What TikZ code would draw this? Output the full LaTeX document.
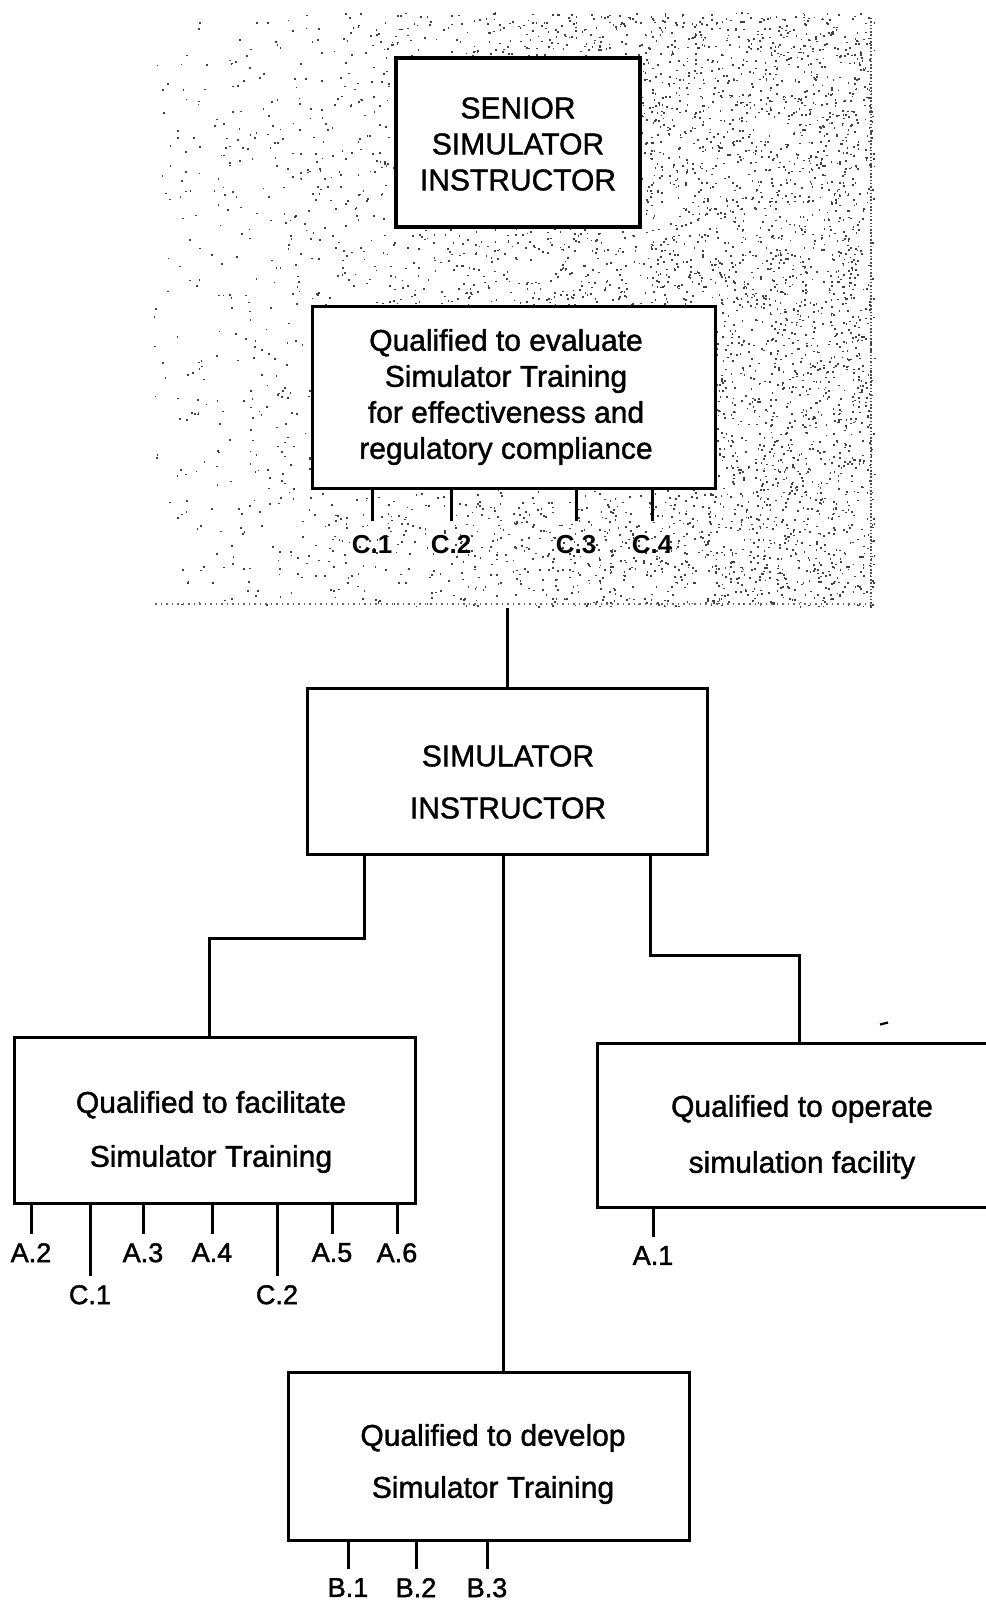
\documentclass[tikz,border=0pt]{standalone}
\usepackage{fontspec}
\setmainfont{Liberation Sans}
\newfontfamily\heavyfont{Liberation Sans}[FakeBold=1.3]
\newfontfamily\labfont{Liberation Sans}[FakeBold=1.6]
\begin{document}
\begin{tikzpicture}[x=1pt,y=-1pt,
  box/.style={draw, line width=3pt, fill=white, rectangle, inner sep=0pt},
  boxtext/.style={align=center, inner sep=0pt, font=\heavyfont\fontsize{30}{#1}\selectfont},
  boxtext/.default=36,
  link/.style={line width=3pt},
  tickline/.style={line width=3pt},
  lab/.style={font=\labfont\fontsize{27}{30}\selectfont, inner xsep=0pt, inner ysep=9pt, anchor=north},
  blab/.style={font=\bfseries\fontsize{26}{30}\selectfont, inner xsep=0pt, inner ysep=14pt, anchor=north},
  stipple/.style={fill=black!75}]
\useasboundingbox (0,0) rectangle (985,1602);

% stippled background region
\node[inner sep=0pt, minimum width=721pt, minimum height=598pt] (shade) at (513.5,309) {};
\pgfmathsetseed{7}
\foreach \i in {1,...,4600}{
  \pgfmathsetmacro\dx{153+721*pow(rnd,0.45)}
  \pgfmathsetmacro\dy{12+594*rnd}
  \fill[stipple] (\dx,\dy) rectangle ++(1.7,1.7);
}
\foreach \i in {1,...,1000}{
  \pgfmathsetmacro\dx{153+721*rnd}
  \pgfmathsetmacro\dy{12+594*rnd}
  \fill[stipple] (\dx,\dy) rectangle ++(1.7,1.7);
}
\draw[line width=2pt, black!70, dash pattern=on 1.5pt off 1.8pt] (871,18) -- (871,606);
\draw[line width=1.8pt, black!60, dash pattern=on 1.5pt off 4pt] (155,604) -- (871,604);

% boxes
\node[box, line width=3.4pt, minimum width=244pt, minimum height=169pt] (senior) at (518,142.5) {};
\node[boxtext] (seniort) at (518,144) {SENIOR\\SIMULATOR\\INSTRUCTOR};

\node[box, minimum width=403pt, minimum height=181pt] (eval) at (513.5,397.5) {};
\node[boxtext] (evalt) at (506,397) {Qualified to evaluate\\Simulator Training\\for effectiveness and\\regulatory compliance};

\node[box, minimum width=400pt, minimum height=166pt] (sim) at (507,771) {};
\node[boxtext=52] (simt) at (508,782) {SIMULATOR\\INSTRUCTOR};

\node[box, minimum width=401pt, minimum height=166pt] (fac) at (214.5,1120) {};
\node[boxtext=54] (fact) at (211,1132) {Qualified to facilitate\\Simulator Training};

\node[box, minimum width=420pt, minimum height=164pt] (oper) at (807,1125) {};
\node[boxtext=56] (opert) at (802,1137) {Qualified to operate\\simulation facility};

\node[box, minimum width=401pt, minimum height=168pt] (dev) at (488.5,1456) {};
\node[boxtext=52] (devt) at (493,1464) {Qualified to develop\\Simulator Training};

% connectors
\coordinate (lk1) at (364,938);
\coordinate (lk2) at (209,938);
\coordinate (rk1) at (650,955);
\coordinate (rk2) at (799,955);
\coordinate (mk) at (503,900);
\draw[link] (shade.south -| sim.north) -- (sim.north);
\draw[link] (sim.south -| lk1) -- (lk1) -- (lk2) -- (fac.north -| lk2);
\draw[link] (sim.south -| rk1) -- (rk1) -- (rk2) -- (oper.north -| rk2);
\draw[link] (sim.south -| mk) -- (dev.north -| mk);

% evaluation labels
\node[blab] (ec1) at (372,521) {C.1};
\node[blab] (ec2) at (451,521) {C.2};
\node[blab] (ec3) at (576,521) {C.3};
\node[blab] (ec4) at (652,521) {C.4};
\foreach \n in {ec1,ec2,ec3,ec4}{\draw[tickline] (eval.south -| \n.north) -- (\n.north);}

% facilitate labels
\node[lab] (fa2) at (31,1234) {A.2};
\node[lab] (fc1) at (90,1276) {C.1};
\node[lab] (fa3) at (143,1234) {A.3};
\node[lab] (fa4) at (212,1234) {A.4};
\node[lab] (fc2) at (277,1276) {C.2};
\node[lab] (fa5) at (332,1234) {A.5};
\node[lab] (fa6) at (397,1234) {A.6};
\foreach \n in {fa2,fc1,fa3,fa4,fc2,fa5,fa6}{\draw[tickline] (fac.south -| \n.north) -- (\n.north);}

% operate label
\node[lab] (oa1) at (653,1237) {A.1};
\draw[tickline] (oper.south -| oa1.north) -- (oa1.north);

% develop labels
\node[lab] (db1) at (348,1569) {B.1};
\node[lab] (db2) at (416,1569) {B.2};
\node[lab] (db3) at (487,1569) {B.3};
\foreach \n in {db1,db2,db3}{\draw[tickline] (dev.south -| \n.north) -- (\n.north);}

% stray mark
\draw[line width=2.2pt] (880,1024.5) -- (888,1022.5);
\end{tikzpicture}
\end{document}
